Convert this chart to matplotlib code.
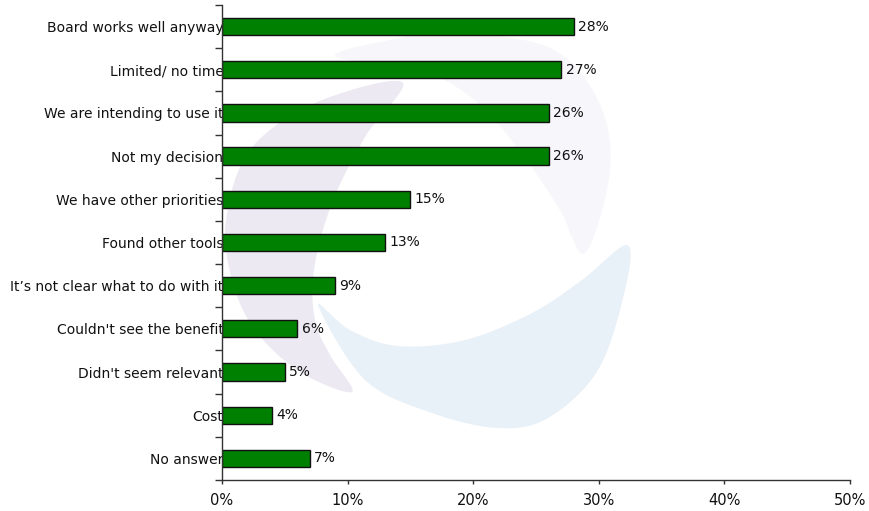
import numpy as np
import matplotlib
matplotlib.use("Agg")
import matplotlib.pyplot as plt
from matplotlib.patches import Polygon

categories = [
    "Board works well anyway",
    "Limited/ no time",
    "We are intending to use it",
    "Not my decision",
    "We have other priorities",
    "Found other tools",
    "It\u2019s not clear what to do with it",
    "Couldn't see the benefit",
    "Didn't seem relevant",
    "Cost",
    "No answer",
]
values = [28, 27, 26, 26, 15, 13, 9, 6, 5, 4, 7]
xticks = [0, 10, 20, 30, 40, 50]
xtick_labels = ["0%", "10%", "20%", "30%", "40%", "50%"]

W, H = 869, 511
fig = plt.figure(figsize=(W / 100, H / 100), dpi=100)
ax = fig.add_axes([222 / W, 1 - 480 / H, (850 - 222) / W, (480 - 5) / H])
ax.patch.set_visible(False)


def smooth_closed(points, n=20):
    """Catmull-Rom closed curve through pixel points, returned in figure fraction."""
    p = np.asarray(points, dtype=float)
    m = len(p)
    out = []
    for i in range(m):
        p0, p1, p2, p3 = p[(i - 1) % m], p[i], p[(i + 1) % m], p[(i + 2) % m]
        for t in np.linspace(0, 1, n, endpoint=False):
            t2, t3 = t * t, t * t * t
            out.append(0.5 * ((2 * p1) + (-p0 + p2) * t
                              + (2 * p0 - 5 * p1 + 4 * p2 - p3) * t2
                              + (-p0 + 3 * p1 - 3 * p2 + p3) * t3))
    out = np.array(out)
    out[:, 0] /= W
    out[:, 1] = 1 - out[:, 1] / H
    return out


# Faint logo watermark behind the bars
logo_left = [(402, 82), (315, 103), (250, 150), (226, 220), (232, 280),
             (255, 330), (300, 372), (352, 392), (330, 355), (315, 320),
             (314, 270), (332, 203), (365, 137)]
logo_top = [(335, 55), (400, 38), (448, 33), (548, 47), (598, 100),
            (610, 170), (585, 253), (560, 210), (530, 165), (490, 115),
            (448, 82), (400, 68)]
logo_bottom = [(627, 245), (625, 290), (598, 370), (548, 418), (498, 428),
               (432, 413), (365, 380), (318, 305), (350, 330), (398, 346),
               (465, 340), (532, 313), (582, 280)]
for pts, col in [(logo_left, "#ede9f2"), (logo_top, "#f7f6fa"),
                 (logo_bottom, "#e9f1f8")]:
    ax.add_patch(Polygon(smooth_closed(pts), closed=True, facecolor=col,
                         edgecolor="none", transform=fig.transFigure,
                         clip_on=False, zorder=0))

y = np.arange(len(categories))
ax.barh(y, values, height=0.4, color="#008000", edgecolor="#111111",
        linewidth=1.0, zorder=2)
for yi, v in zip(y, values):
    ax.text(v + 0.35, yi, f"{v}%", va="center", ha="left", fontsize=10,
            color="#111111", zorder=3)

ax.set_xlim(0, 50)
ax.set_ylim(len(categories) - 0.5, -0.5)

ax.set_xticks(xticks)
ax.set_xticklabels(xtick_labels, fontsize=10.5)
ax.tick_params(axis="x", direction="out", length=3, width=1, color="#333333",
               pad=6.5, labelcolor="#111111")

# Category labels sit at bar centres; tick marks sit between categories
ax.set_yticks(y)
ax.set_yticklabels(categories, fontsize=10, color="#111111")
ax.tick_params(axis="y", which="major", length=0, pad=-1)
ax.set_yticks(np.arange(len(categories) + 1) - 0.5, minor=True)
ax.tick_params(axis="y", which="minor", direction="out", length=5, width=1,
               color="#333333")

for side in ["top", "right"]:
    ax.spines[side].set_visible(False)
for side in ["left", "bottom"]:
    ax.spines[side].set_color("#333333")
    ax.spines[side].set_linewidth(1.0)
    ax.spines[side].set_zorder(4)

fig.savefig("out.png", dpi=100)
